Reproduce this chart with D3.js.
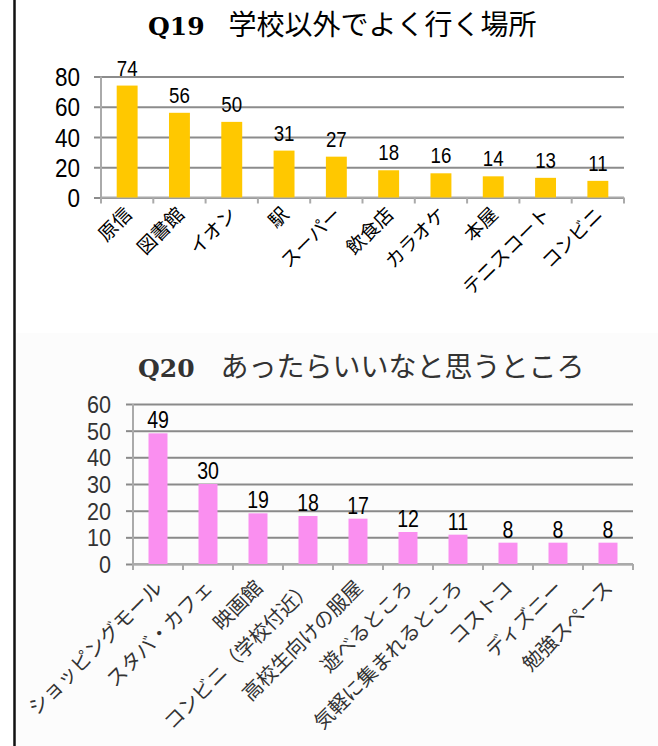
<!DOCTYPE html>
<html>
<head>
<meta charset="utf-8">
<script src="https://cdn.jsdelivr.net/npm/d3@7"></script>
<style>
  html, body { margin: 0; padding: 0; background: #fff; }
  svg { display: block; }
</style>
</head>
<body>
<script>
// ---- Data ----
const places1 = ["原信","図書館","イオン","駅","スーパー","飲食店","カラオケ","本屋","テニスコート","コンビニ"];
const counts1 = [74,56,50,31,27,18,16,14,13,11];
const ticks1 = [0,20,40,60,80];

const places2 = ["ショッピングモール","スタバ・カフェ","映画館","コンビニ（学校付近）","高校生向けの服屋","遊べるところ","気軽に集まれるところ","コストコ","ディズニー","勉強スペース"];
const counts2 = [49,30,19,18,17,12,11,8,8,8];
const ticks2 = [0,10,20,30,40,50,60];

const W = 658, H = 746;
const svg = d3.select("body").append("svg").attr("width", W).attr("height", H);

// faint scanned background for lower chart
svg.append("rect").attr("x", 16).attr("y", 333).attr("width", W - 16).attr("height", H - 333).attr("fill", "#fcfcfc");

// left border
svg.append("line").attr("x1", 14.5).attr("x2", 14.5).attr("y1", 0).attr("y2", H)
  .attr("stroke", "#111").attr("stroke-width", 2.5);

const latin = "'Liberation Sans', Arial, sans-serif";
const cjk = "'Noto Sans CJK JP', 'Noto Sans', sans-serif";

function drawChart(opt) {
  const { cats, vals, ticks, x0, x1, y0, y1, max, color, title, titleQ, titleX, titleY,
          tickFont, valFont, labFont, textColor, gridColor, labDx, labDy, barFrac, titleColor } = opt;
  const x = d3.scaleBand().domain(cats).range([x0, x1]).paddingInner(0).paddingOuter(0);
  const y = d3.scaleLinear().domain([0, max]).range([y0, y1]);
  const g = svg.append("g");

  // title
  const t = g.append("text").attr("x", titleX).attr("y", titleY).attr("fill", titleColor);
  t.append("tspan").text(titleQ).attr("font-family", "'DejaVu Serif', 'Liberation Serif', serif")
    .attr("font-weight", "bold").attr("font-size", 25);
  t.append("tspan").text(title).attr("dx", opt.titleGap).attr("font-family", cjk).attr("font-size", opt.titleFont);

  // gridlines
  const yAxis = d3.axisLeft(y).tickValues(ticks).tickSize(-(x1 - x0)).tickPadding(0).tickFormat(d3.format("d"));
  const ya = g.append("g").attr("transform", `translate(${x0},0)`).call(yAxis);
  ya.select(".domain").remove();
  ya.selectAll(".tick line").attr("stroke", gridColor).attr("stroke-width", 2);
  ya.selectAll(".tick text").attr("x", null).attr("dy", null)
    .attr("transform", `translate(${-opt.tickPad},${tickFont * 0.36}) scale(0.9,1)`)
    .attr("font-family", latin).attr("font-size", tickFont).attr("fill", textColor);
  // left tick stubs
  ya.selectAll(".tick").append("line").attr("x1", -7).attr("x2", 0).attr("stroke", gridColor).attr("stroke-width", 2);

  // y axis line
  g.append("line").attr("x1", x0).attr("x2", x0).attr("y1", y(max)).attr("y2", y0)
    .attr("stroke", "#aaa").attr("stroke-width", 2);

  // x axis ticks at band boundaries
  const bounds = cats.map(c => x(c)).concat([x1]);
  g.selectAll(".xt").data(bounds).join("line")
    .attr("x1", d => d).attr("x2", d => d).attr("y1", y0).attr("y2", y0 + 6)
    .attr("stroke", "#aaa").attr("stroke-width", 2);
  g.append("line").attr("x1", x0).attr("x2", x1).attr("y1", y0).attr("y2", y0)
    .attr("stroke", "#aaa").attr("stroke-width", 2);

  // bars
  const bw = x.bandwidth() * barFrac;
  g.selectAll(".bar").data(vals).join("rect")
    .attr("x", (d, i) => x(cats[i]) + (x.bandwidth() - bw) / 2)
    .attr("y", d => y(d))
    .attr("width", bw)
    .attr("height", d => y0 - y(d))
    .attr("fill", color);

  // value labels
  g.selectAll(".val").data(vals).join("text")
    .attr("transform", (d, i) => `translate(${x(cats[i]) + x.bandwidth() / 2},${y(d) - opt.valGap}) scale(0.85,1)`)
    .attr("text-anchor", "middle")
    .attr("font-family", latin).attr("font-size", valFont).attr("fill", "#000")
    .text(d => d);

  // category labels
  g.selectAll(".cat").data(cats).join("text")
    .attr("transform", d => `translate(${x(d) + x.bandwidth() / 2 + labDx},${y0 + labDy}) rotate(-45)`)
    .attr("text-anchor", "end")
    .attr("font-family", cjk).attr("font-size", labFont).attr("fill", textColor)
    .text(d => d);
}

drawChart({
  cats: places1, vals: counts1, ticks: ticks1,
  x0: 101, x1: 624, y0: 197.5, y1: 76.5, max: 80,
  color: "#FFC800", title: "学校以外でよく行く場所", titleQ: "Q19", titleX: 148, titleY: 35, titleColor: "#000",
  titleGap: 24, titleFont: 28,
  tickFont: 25, tickPad: 21, valFont: 22, labFont: 19, textColor: "#000", gridColor: "#8c8c8c",
  labDx: 6, labDy: 18, barFrac: 0.4, valGap: 10
});

drawChart({
  cats: places2, vals: counts2, ticks: ticks2,
  x0: 133, x1: 633, y0: 564, y1: 404, max: 60,
  color: "#FA8FF0", title: "あったらいいなと思うところ", titleQ: "Q20", titleX: 138, titleY: 377, titleColor: "#333",
  titleGap: 26, titleFont: 28,
  tickFont: 24, tickPad: 22, valFont: 23, labFont: 20, textColor: "#333", gridColor: "#8a8a8a",
  labDx: 6, labDy: 25, barFrac: 0.38, valGap: 5
});
</script>
</body>
</html>
